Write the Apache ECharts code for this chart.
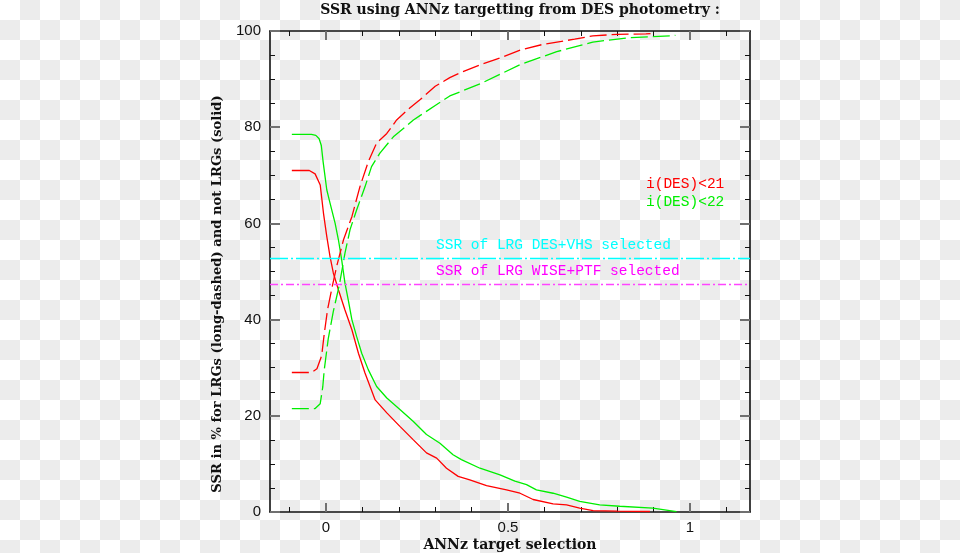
<!DOCTYPE html>
<html>
<head>
<meta charset="utf-8">
<script src="https://cdn.jsdelivr.net/npm/echarts@6/dist/echarts.min.js"></script>
<style>
html,body{margin:0;padding:0;}
body{width:960px;height:553px;background:repeating-conic-gradient(#ececec 0% 25%, #ffffff 0% 50%) 0 0/40px 40px;}
#chart{width:960px;height:553px;}
</style>
</head>
<body>
<div id="chart"></div>
<script>
// ---- data ----
const titleText = 'SSR using ANNz targetting from DES photometry :';
const xTitle = 'ANNz target selection';
const yTitle = 'SSR in % for LRGs (long-dashed) and not LRGs (solid)';

const xMajor = [0, 0.5, 1];
const xMinor = [-0.1, 0.1, 0.2, 0.3, 0.4, 0.6, 0.7, 0.8, 0.9, 1.1];
const yMajor = [0, 20, 40, 60, 80, 100];
const yMinor = [5, 10, 15, 25, 30, 35, 45, 50, 55, 65, 70, 75, 85, 90, 95];

// not LRGs, i(DES)<21 (solid red)
const redSolidX = [-0.094, -0.046, -0.03, -0.016, -0.007, 0.002, 0.011, 0.020, 0.034, 0.052, 0.071, 0.089, 0.107, 0.121, 0.135, 0.167, 0.203, 0.240, 0.276, 0.304, 0.331, 0.363, 0.395, 0.441, 0.496, 0.533, 0.569, 0.624, 0.661, 0.697, 0.734, 0.80, 0.89];
const redSolidY = [71.0, 71.0, 70.3, 68.0, 62.1, 57.3, 53.1, 49.7, 46.2, 42.0, 37.9, 33.0, 28.9, 26.1, 23.3, 20.6, 17.8, 15.0, 12.3, 11.2, 9.1, 7.4, 6.7, 5.5, 4.6, 3.9, 2.6, 1.7, 1.5, 0.8, 0.3, 0.2, 0.1];

// not LRGs, i(DES)<22 (solid green)
const greenSolidX = [-0.094, -0.04, -0.028, -0.019, -0.013, -0.008, 0.002, 0.011, 0.025, 0.034, 0.043, 0.052, 0.061, 0.071, 0.084, 0.098, 0.116, 0.139, 0.167, 0.203, 0.240, 0.276, 0.313, 0.349, 0.372, 0.423, 0.478, 0.519, 0.551, 0.578, 0.624, 0.661, 0.697, 0.752, 0.807, 0.898, 0.963];
const greenSolidY = [78.5, 78.5, 78.3, 77.6, 76.2, 72.8, 67.0, 64.2, 60.0, 56.6, 52.4, 47.6, 44.1, 40.0, 36.5, 33.0, 29.6, 26.1, 23.7, 21.3, 18.8, 16.1, 14.3, 11.9, 10.9, 9.1, 7.7, 6.4, 5.7, 4.6, 3.9, 3.1, 2.2, 1.5, 1.2, 0.8, 0.1];

// LRGs, i(DES)<21 (dashed red)
const redDashX = [-0.094, -0.04, -0.025, -0.012, -0.005, 0.004, 0.016, 0.029, 0.048, 0.071, 0.093, 0.116, 0.139, 0.167, 0.194, 0.23, 0.258, 0.30, 0.34, 0.368, 0.428, 0.478, 0.536, 0.595, 0.683, 0.733, 0.80, 0.879, 0.90];
const redDashY = [29.0, 29.0, 29.8, 32.5, 37.0, 42.0, 46.5, 51.0, 56.6, 61.4, 67.6, 72.8, 76.7, 78.7, 81.5, 84.0, 85.7, 88.5, 90.3, 91.3, 93.1, 94.4, 96.1, 97.2, 98.3, 99.0, 99.3, 99.4, 99.5];

// LRGs, i(DES)<22 (dashed green)
const greenDashX = [-0.094, -0.03, -0.016, -0.009, -0.005, 0.006, 0.020, 0.036, 0.052, 0.066, 0.084, 0.107, 0.125, 0.148, 0.185, 0.240, 0.30, 0.34, 0.423, 0.478, 0.536, 0.634, 0.733, 0.831, 0.953, 0.96];
const greenDashY = [21.5, 21.5, 22.5, 26.0, 29.5, 36.0, 41.7, 47.0, 53.8, 58.7, 62.8, 67.6, 71.8, 74.6, 78.0, 81.5, 84.5, 86.5, 89.0, 91.0, 93.1, 95.7, 97.7, 98.6, 99.0, 99.1];

const ssrDesVhs = 52.7;
const ssrWisePtf = 47.3;
const labelDesVhs = 'SSR of LRG DES+VHS selected';
const labelWisePtf = 'SSR of LRG WISE+PTF selected';
const legend21 = 'i(DES)<21';
const legend22 = 'i(DES)<22';

// ---- chart ----
const xMin = -0.154, xMax = 1.165;
const zip = (xs, ys) => xs.map((x, i) => [x, ys[i]]);
const sansFont = 'Liberation Sans';
const serifFont = 'DejaVu Serif';
const monoFont = 'Liberation Mono';

function xAx(pos, ticks, len, color, width, showLine, showLabel) {
  return {
    type: 'value', min: xMin, max: xMax, position: pos, gridIndex: 0,
    splitLine: {show: false},
    axisLine: {show: showLine, onZero: false, lineStyle: {color: '#111', width: 1.6}},
    axisTick: {show: true, inside: true, length: len, customValues: ticks, lineStyle: {color: color, width: width}},
    axisLabel: {show: showLabel, customValues: xMajor, margin: 8, color: '#111', fontFamily: sansFont, fontSize: 15,
      formatter: v => String(v)}
  };
}
function yAx(pos, ticks, len, color, width, showLine, showLabel) {
  return {
    type: 'value', min: 0, max: 100, position: pos, gridIndex: 0,
    splitLine: {show: false},
    axisLine: {show: showLine, onZero: false, lineStyle: {color: '#111', width: 1.6}},
    axisTick: {show: true, inside: true, length: len, customValues: ticks, lineStyle: {color: color, width: width}},
    axisLabel: {show: showLabel, customValues: yMajor, margin: 9, color: '#111', fontFamily: sansFont, fontSize: 15}
  };
}

const chart = echarts.init(document.getElementById('chart'), null, {renderer: 'canvas'});
chart.setOption({
  backgroundColor: 'transparent',
  animation: false,
  grid: {left: 270, right: 210, top: 31, bottom: 41, containLabel: false},
  xAxis: [
    xAx('bottom', xMajor, 9, '#707070', 2, true, true),
    xAx('bottom', xMinor, 5, '#111', 1, false, false),
    xAx('top', xMajor, 9, '#707070', 2, true, false),
    xAx('top', xMinor, 5, '#111', 1, false, false)
  ],
  yAxis: [
    yAx('left', yMajor, 10, '#707070', 2, true, true),
    yAx('left', yMinor, 5, '#111', 1, false, false),
    yAx('right', yMajor, 10, '#707070', 2, true, false),
    yAx('right', yMinor, 5, '#111', 1, false, false)
  ],
  series: [
    {type: 'line', name: 'red solid', data: zip(redSolidX, redSolidY), showSymbol: false, smooth: false,
      lineStyle: {color: '#ff0000', width: 1.3}},
    {type: 'line', name: 'green solid', data: zip(greenSolidX, greenSolidY), showSymbol: false, smooth: false,
      lineStyle: {color: '#00ee00', width: 1.3}},
    {type: 'line', name: 'red dashed', data: zip(redDashX, redDashY), showSymbol: false, smooth: false,
      lineStyle: {color: '#ff0000', width: 1.3, type: [17, 5]}},
    {type: 'line', name: 'green dashed', data: zip(greenDashX, greenDashY), showSymbol: false, smooth: false,
      lineStyle: {color: '#00ee00', width: 1.3, type: [17, 5]},
      markLine: {silent: true, symbol: 'none', label: {show: false}, animation: false,
        data: [
          {yAxis: ssrDesVhs, lineStyle: {color: '#00ffff', width: 1.3, type: [18, 3, 2, 3]}},
          {yAxis: ssrWisePtf, lineStyle: {color: '#ff44ff', width: 1.3, type: [8, 3, 2, 3]}}
        ]}}
  ],
  graphic: [
    {type: 'text', x: 520, y: 10, style: {text: titleText, textAlign: 'center', textVerticalAlign: 'middle',
      font: 'bold 14px "' + serifFont + '"', fill: '#111'}},
    {type: 'text', x: 510, y: 545, style: {text: xTitle, textAlign: 'center', textVerticalAlign: 'middle',
      font: 'bold 14px "' + serifFont + '"', fill: '#111'}},
    {type: 'text', x: 218, y: 294, rotation: Math.PI / 2, style: {text: yTitle, textAlign: 'center', textVerticalAlign: 'middle',
      font: 'bold 13.1px "' + serifFont + '"', fill: '#111'}},
    {type: 'text', x: 436, y: 245, style: {text: labelDesVhs, textVerticalAlign: 'middle',
      font: '14.5px "' + monoFont + '"', fill: '#00ffff'}},
    {type: 'text', x: 436, y: 271, style: {text: labelWisePtf, textVerticalAlign: 'middle',
      font: '14.5px "' + monoFont + '"', fill: '#ff00ff'}},
    {type: 'text', x: 646, y: 184, style: {text: legend21, textVerticalAlign: 'middle',
      font: '14.5px "' + monoFont + '"', fill: '#ff0000'}},
    {type: 'text', x: 646, y: 202, style: {text: legend22, textVerticalAlign: 'middle',
      font: '14.5px "' + monoFont + '"', fill: '#00ee00'}}
  ]
});
</script>
</body>
</html>
